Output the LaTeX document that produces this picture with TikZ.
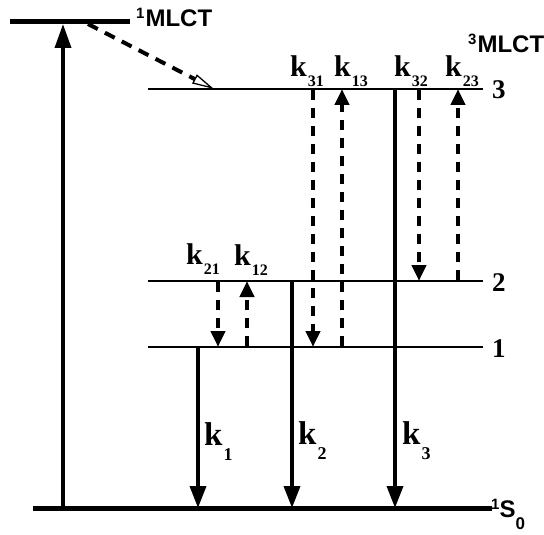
\documentclass[tikz,border=0pt]{standalone}
\usepackage{fontspec}
\setmainfont{Liberation Serif}
\newfontfamily\sansbf{Liberation Sans}
\usetikzlibrary{arrows.meta}
\newcommand\klab[1]{k\kern1pt\raisebox{-10pt}{\fontsize{16}{16}\selectfont #1}}
\newcommand\kbig[1]{k\kern1pt\raisebox{-15pt}{\fontsize{18}{18}\selectfont #1}}
\begin{document}
\begin{tikzpicture}[x=1pt,y=-1pt,
  thinlevel/.style={line width=2.3pt},
  thicklevel/.style={line width=5pt},
  solidarrow/.style={line width=3.6pt,-{Triangle[length=22pt,width=16pt]}},
  dasharrow/.style={line width=4pt,dash pattern=on 10pt off 8pt,-{Triangle[length=16pt,width=14pt]}},
  opendash/.style={line width=4pt,dash pattern=on 11pt off 8pt,-{Triangle[open,length=22pt,width=10pt,line width=1.3pt]}},
  klabel/.style={anchor=base west,inner sep=0pt,font=\fontsize{30}{30}\selectfont\bfseries},
  kbiglabel/.style={anchor=base west,inner sep=0pt,font=\fontsize{33}{33}\selectfont\bfseries},
  numlabel/.style={anchor=base west,inner sep=0pt,font=\fontsize{27}{27}\selectfont\bfseries},
  statelabel/.style={anchor=base west,inner sep=0pt,font=\sansbf\bfseries\fontsize{24}{24}\selectfont}
]
\useasboundingbox (0,0) rectangle (544,535);
% levels
\coordinate (MLa) at (10,22);  \coordinate (MLb) at (130,22);
\coordinate (L3a) at (148,89); \coordinate (L3b) at (483,89);
\coordinate (L2a) at (148,281); \coordinate (L2b) at (483,281);
\coordinate (L1a) at (148,347); \coordinate (L1b) at (483,347);
\coordinate (S0a) at (33,508); \coordinate (S0b) at (492,508);
\draw[thicklevel] (MLa) -- (MLb);
\draw[thinlevel] (L3a) -- (L3b);
\draw[thinlevel] (L2a) -- (L2b);
\draw[thinlevel] (L1a) -- (L1b);
\draw[thicklevel] (S0a) -- (S0b);
% arrow end points
\coordinate (exb) at (63,506); \coordinate (ext) at (63,24);
\coordinate (d1) at (88,24); \coordinate (d2) at (214,89);
\coordinate (k31t) at (313,90); \coordinate (k31b) at (313,347);
\coordinate (k13b) at (342,346); \coordinate (k13t) at (342,89);
\coordinate (k32t) at (419,90); \coordinate (k32b) at (419,281);
\coordinate (k23b) at (458,280); \coordinate (k23t) at (458,89);
\coordinate (k21t) at (218,282); \coordinate (k21b) at (218,347);
\coordinate (k12b) at (247,346); \coordinate (k12t) at (247,281);
\coordinate (k1t) at (198,347); \coordinate (k1b) at (198,508);
\coordinate (k2t) at (292,281); \coordinate (k2b) at (292,508);
\coordinate (k3t) at (395,89); \coordinate (k3b) at (395,508);
% arrows
\draw[line width=3.6pt,-{Triangle[length=24pt,width=16pt]}] (exb) -- (ext);
\draw[opendash] (d1) -- (d2);
\draw[dasharrow] (k31t) -- (k31b);
\draw[dasharrow] (k13b) -- (k13t);
\draw[dasharrow] (k32t) -- (k32b);
\draw[dasharrow] (k23b) -- (k23t);
\draw[dasharrow] (k21t) -- (k21b);
\draw[dasharrow] (k12b) -- (k12t);
\draw[solidarrow] (k1t) -- (k1b);
\draw[solidarrow] (k2t) -- (k2b);
\draw[solidarrow] (k3t) -- (k3b);
% labels
\node[klabel] (lk31) at (290,77) {\klab{31}};
\node[klabel] (lk13) at (334,77) {\klab{13}};
\node[klabel] (lk32) at (394,77) {\klab{32}};
\node[klabel] (lk23) at (445,77) {\klab{23}};
\node[klabel] (lk21) at (186,264) {\klab{21}};
\node[klabel] (lk12) at (234,265) {\klab{12}};
\node[kbiglabel] (lk1) at (204,445) {\kbig{1}};
\node[kbiglabel] (lk2) at (298,444) {\kbig{2}};
\node[kbiglabel] (lk3) at (402,444) {\kbig{3}};
\node[numlabel] (n3) at (492,99) {3};
\node[numlabel] (n2) at (492,291) {2};
\node[numlabel] (n1) at (492,357) {1};
\node[statelabel] (s1) at (136,27) {\raisebox{8pt}{\fontsize{15}{15}\selectfont 1}\kern1pt MLCT};
\node[statelabel] (s3) at (468,53) {\raisebox{8pt}{\fontsize{15}{15}\selectfont 3}\kern1pt MLCT};
\node[statelabel] (s0) at (491,517) {\raisebox{8pt}{\fontsize{15}{15}\selectfont 1}S\raisebox{-12pt}{\fontsize{17}{17}\selectfont 0}};
\end{tikzpicture}
\end{document}
